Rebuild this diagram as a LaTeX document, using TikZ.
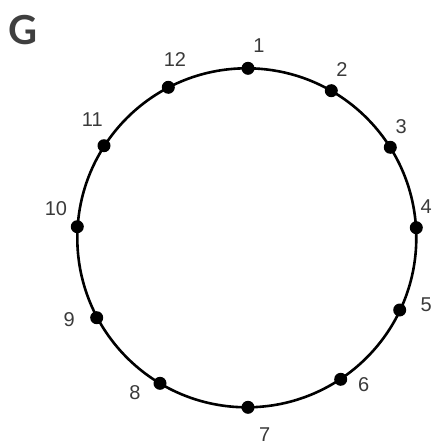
\documentclass[tikz,border=0pt]{standalone}
\usepackage{fontspec}
\setmainfont{Liberation Sans}
\newfontfamily\gfont{Lato}
\definecolor{lbl}{HTML}{3A3A3A}
\definecolor{gcol}{HTML}{3F3F3F}
\begin{document}
\begin{tikzpicture}[x=1pt,y=-1pt,
  dot/.style={circle,fill=black,inner sep=0pt,minimum size=13pt},
  lab/.style={text=lbl,font=\fontsize{20}{20}\selectfont,inner sep=0pt}]
\useasboundingbox (0,0) rectangle (436,448);
\node[text=gcol,font=\gfont\bfseries\fontsize{40}{40}\selectfont,inner sep=0pt] (G) at (23,30) {G};
\draw[line width=2.6pt] (246.8,237.8) circle[radius=169.5];
\node[dot] (p1) at (248,68.3) {};
\node[dot] (p2) at (331.3,90.7) {};
\node[dot] (p3) at (390.3,147.3) {};
\node[dot] (p4) at (416.3,227.7) {};
\node[dot] (p5) at (399.7,310) {};
\node[dot] (p6) at (340.7,379.3) {};
\node[dot] (p7) at (248,407.3) {};
\node[dot] (p8) at (160,383.3) {};
\node[dot] (p9) at (96.7,317.7) {};
\node[dot] (p10) at (77.3,226.7) {};
\node[dot] (p11) at (104,145.7) {};
\node[dot] (p12) at (168.3,87.3) {};
\node[lab] (l1) at (259,46) {1};
\node[lab] (l2) at (342,70) {2};
\node[lab] (l3) at (401.3,126.7) {3};
\node[lab] (l4) at (426.3,206.7) {4};
\node[lab] (l5) at (426.3,304.3) {5};
\node[lab] (l6) at (363.7,385) {6};
\node[lab] (l7) at (264.7,435) {7};
\node[lab] (l8) at (135,392.7) {8};
\node[lab] (l9) at (69.3,320) {9};
\node[lab] (l10) at (56,208.3) {10};
\node[lab] (l11) at (92.3,120) {11};
\node[lab] (l12) at (175,60) {12};
\end{tikzpicture}
\end{document}
